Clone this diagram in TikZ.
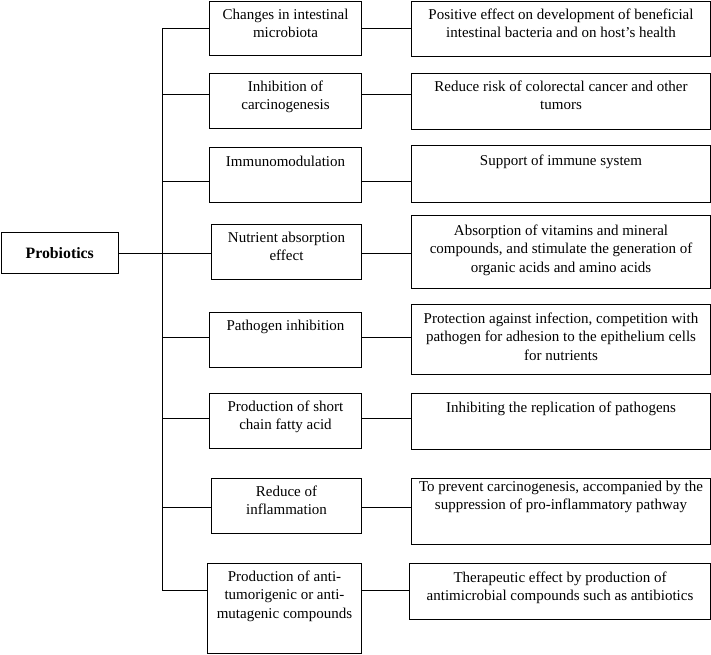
\documentclass[tikz,border=0pt]{standalone}
\usepackage{fontspec}
\setmainfont{Liberation Serif}
\newcommand{\mybt}[4][5.5pt]{\parbox[t][#3][t]{#2}{\centering\fontsize{15}{18.2}\selectfont\vspace*{#1}\strut #4}}
\begin{document}
\begin{tikzpicture}[x=1pt,y=-1pt,
  bx/.style={draw, line width=1pt, inner sep=0pt, anchor=north west},
  ln/.style={line width=0.8pt}]
\useasboundingbox (0,0) rectangle (711,654);
% root
\node[bx, minimum width=117.5pt, minimum height=41pt] (prob) at (0.5,232) {};
\node[font=\fontsize{15.8}{18}\selectfont\bfseries] at (prob.center) {Probiotics};
% middle boxes
\node[bx] (m1) at (209,1)   {\mybt{152pt}{54pt}{Changes in intestinal\\microbiota}};
\node[bx] (m2) at (209,73)  {\mybt{152pt}{55pt}{Inhibition of\\carcinogenesis}};
\node[bx] (m3) at (209,147) {\mybt[6.5pt]{152pt}{55pt}{Immunomodulation}};
\node[bx] (m4) at (211,224) {\mybt{150pt}{55pt}{Nutrient absorption\\effect}};
\node[bx] (m5) at (209,312) {\mybt{152pt}{55pt}{Pathogen inhibition}};
\node[bx] (m6) at (209,393) {\mybt{152pt}{55pt}{Production of short\\chain fatty acid}};
\node[bx] (m7) at (211,478) {\mybt{150pt}{55pt}{Reduce of\\inflammation}};
\node[bx] (m8) at (207,563) {\mybt{154pt}{90pt}{Production of anti-\\tumorigenic or anti-\\mutagenic compounds}};
% right boxes
\node[bx] (r1) at (411,1)   {\mybt{299pt}{55pt}{Positive effect on development of beneficial\\intestinal bacteria and on host's health}};
\node[bx] (r2) at (411,73)  {\mybt{299pt}{56pt}{Reduce risk of colorectal cancer and other\\tumors}};
\node[bx] (r3) at (411,145) {\mybt[7.5pt]{299pt}{57pt}{Support of immune system}};
\node[bx] (r4) at (411,215) {\mybt[7.5pt]{299pt}{73pt}{Absorption of vitamins and mineral\\compounds, and stimulate the generation of\\organic acids and amino acids}};
\node[bx] (r5) at (411,304) {\mybt[6.5pt]{299pt}{70pt}{Protection against infection, competition with\\pathogen for adhesion to the epithelium cells\\for nutrients}};
\node[bx] (r6) at (411,393) {\mybt[6.5pt]{299pt}{56pt}{Inhibiting the replication of pathogens}};
\node[bx] (r7) at (411,478) {\mybt[0.5pt]{299pt}{66pt}{To prevent carcinogenesis, accompanied by the\\suppression of pro-inflammatory pathway}};
\node[bx] (r8) at (409,563) {\mybt[6.5pt]{301pt}{56pt}{Therapeutic effect by production of\\antimicrobial compounds such as antibiotics}};
% trunk coordinates
\coordinate (t1) at (162,28);
\coordinate (t2) at (162,94);
\coordinate (t3) at (162,181);
\coordinate (t5) at (162,337);
\coordinate (t6) at (162,418);
\coordinate (t7) at (162,507);
\coordinate (t8) at (162,590);
\draw[ln] (t1) -- (t8);
\draw[ln] (prob.east) -- (prob.east -| m4.west);
\foreach \i in {1,2,3,5,6,7,8}{
  \draw[ln] (t\i) -- (t\i -| m\i.west);
  \draw[ln] (t\i -| m\i.east) -- (t\i -| r\i.west);
}
\draw[ln] (prob.east -| m4.east) -- (prob.east -| r4.west);
\end{tikzpicture}
\end{document}
